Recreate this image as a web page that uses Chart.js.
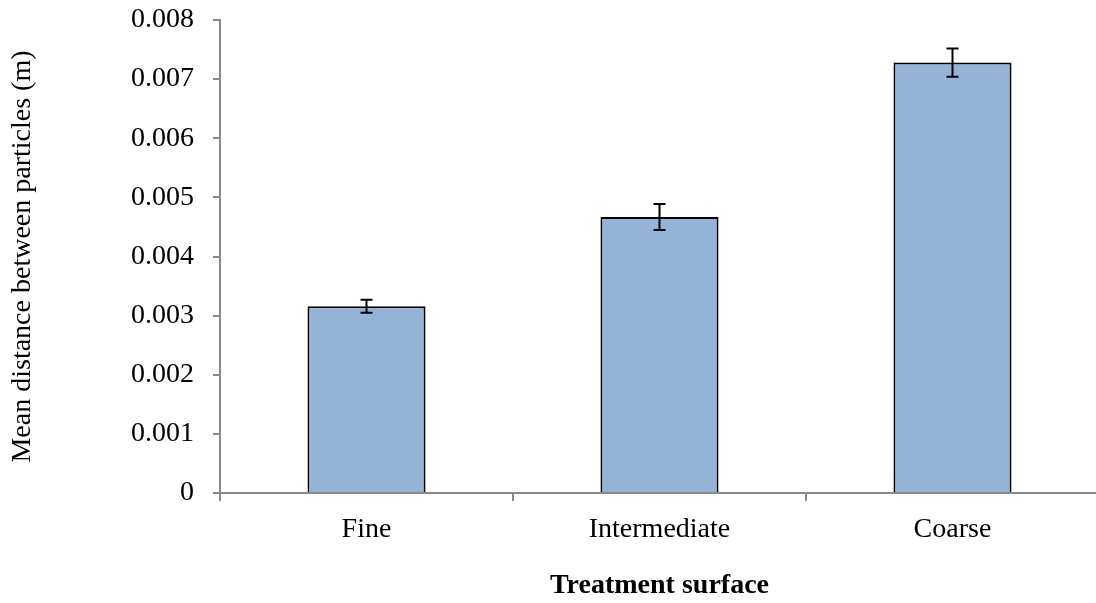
<!DOCTYPE html>
<html>
<head>
<meta charset="utf-8">
<script src="https://cdn.jsdelivr.net/npm/chart.js@4/dist/chart.umd.min.js"></script>
<style>
  html, body { margin: 0; padding: 0; background: #ffffff; overflow: hidden; }
  #wrap { position: relative; width: 1100px; height: 603px; }
</style>
</head>
<body>
<div id="wrap"><canvas id="chart"></canvas></div>
<script>
// Mean spacing between particles for each surface treatment
const categories = ['Fine', 'Intermediate', 'Coarse'];
const meanDistance = [0.00316, 0.00467, 0.00728];
const stdError = [0.00011, 0.00022, 0.00024];
const yTickLabels = ['0', '0.001', '0.002', '0.003', '0.004', '0.005', '0.006', '0.007', '0.008'];

const FONT = '"Liberation Serif", "Times New Roman", serif';
const AXIS_GREY = '#8a8a8a';

// Draws symmetric error bars on top of each bar
const errorBars = {
  id: 'errorBars',
  afterDatasetsDraw(chart) {
    const meta = chart.getDatasetMeta(0);
    const y = chart.scales.y;
    const ctx = chart.ctx;
    ctx.save();
    ctx.strokeStyle = '#000000';
    ctx.lineWidth = 2;
    meta.data.forEach((bar, i) => {
      const v = meanDistance[i], e = stdError[i];
      const top = y.getPixelForValue(v + e);
      const bot = y.getPixelForValue(v - e);
      const x = bar.x, cap = 6;
      ctx.beginPath();
      ctx.moveTo(x, top); ctx.lineTo(x, bot);
      ctx.moveTo(x - cap, top); ctx.lineTo(x + cap, top);
      ctx.moveTo(x - cap, bot); ctx.lineTo(x + cap, bot);
      ctx.stroke();
    });
    ctx.restore();
  }
};

new Chart(document.getElementById('chart'), {
  type: 'bar',
  data: {
    labels: categories,
    datasets: [{
      data: meanDistance,
      backgroundColor: '#95b3d7',
      borderColor: '#000000',
      borderWidth: 2,
      borderSkipped: 'start',
      categoryPercentage: 1.0,
      barPercentage: 0.403
    }]
  },
  options: {
    responsive: true,
    maintainAspectRatio: false,
    animation: false,
    events: [],
    layout: { padding: { top: 20, right: 1, left: 0, bottom: 0 } },
    plugins: { legend: { display: false }, tooltip: { enabled: false } },
    scales: {
      x: {
        z: 1,
        afterFit(scale) { scale.height = 110; },
        grid: {
          offset: true,
          drawOnChartArea: false,
          drawTicks: true,
          tickLength: 8,
          color: AXIS_GREY,
          lineWidth: 2
        },
        border: { color: AXIS_GREY, width: 2 },
        ticks: {
          color: '#000000',
          padding: 12,
          font: { family: FONT, size: 28 }
        },
        title: {
          display: true,
          text: 'Treatment surface',
          color: '#000000',
          padding: { top: 0, bottom: 0 },
          font: { family: FONT, size: 28, weight: 'bold' }
        }
      },
      y: {
        z: 1,
        min: 0,
        max: 0.008,
        afterFit(scale) {
          scale.width = 220;
          scale.paddingTop = 0;
          scale.paddingBottom = 0;
        },
        afterBuildTicks(scale) {
          scale.ticks = yTickLabels.map(t => ({ value: parseFloat(t) }));
        },
        grid: {
          drawOnChartArea: false,
          drawTicks: true,
          tickLength: 7,
          color: AXIS_GREY,
          lineWidth: 2
        },
        border: { color: AXIS_GREY, width: 2 },
        ticks: {
          color: '#000000',
          padding: 19,
          font: { family: FONT, size: 28 },
          callback(value, index) { return yTickLabels[index]; }
        },
        title: {
          display: true,
          text: 'Mean distance between particles (m)',
          color: '#000000',
          padding: { top: 6, bottom: 0 },
          font: { family: FONT, size: 28 }
        }
      }
    }
  },
  plugins: [errorBars]
});
</script>
</body>
</html>
